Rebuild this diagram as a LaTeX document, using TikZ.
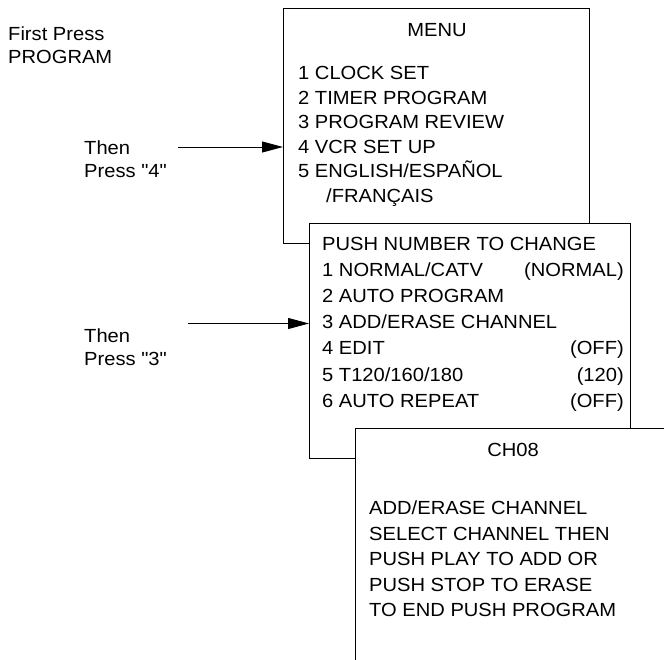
\documentclass[tikz,border=0pt]{standalone}
\usepackage{fontspec}
\setmainfont{Liberation Sans}
\newfontfamily\wide[FakeStretch=1.06]{Liberation Sans}
\usetikzlibrary{arrows.meta}
\begin{document}
\begin{tikzpicture}[x=1pt,y=-1pt,
  txt/.style={anchor=base west,inner sep=0pt,font=\wide\fontsize{19}{22}\selectfont},
  ctxt/.style={anchor=base,inner sep=0pt,font=\wide\fontsize{19}{22}\selectfont},
  rtxt/.style={anchor=base east,inner sep=0pt,font=\wide\fontsize{19}{22}\selectfont},
  screen/.style={draw,line width=0.9pt,fill=white,inner sep=0pt,anchor=north west},
  press/.style={line width=0.9pt,-{Triangle[length=21pt,width=11pt]}}]
\useasboundingbox (0,0) rectangle (664,660);
\clip (0,0) rectangle (664,660);
% left labels
\node[txt] (first) at (8,41) {First Press};
\node[txt] (prog) at (8,64) {PROGRAM};
\node[txt] (then4) at (84,155) {Then};
\node[txt] (press4) at (84,178) {Press \symbol{34}4\symbol{34}};
\node[txt] (then3) at (84,342) {Then};
\node[txt] (press3) at (84,365) {Press \symbol{34}3\symbol{34}};
% screen 1
\node[screen,minimum width=306pt,minimum height=235pt] (menu) at (283,8) {};
\node[ctxt] (mtitle) at (437,37) {MENU};
\node[txt] (m1) at (298,80) {1 CLOCK SET};
\node[txt] (m2) at (298,104.5) {2 TIMER PROGRAM};
\node[txt] (m3) at (298,129) {3 PROGRAM REVIEW};
\node[txt] (m4) at (298,153.5) {4 VCR SET UP};
\node[txt] (m5) at (298,178) {5 ENGLISH/ESPAÑOL};
\node[txt] (m6) at (326,202.5) {/FRANÇAIS};
% screen 2
\node[screen,minimum width=321pt,minimum height=235pt] (setup) at (309,223) {};
\node[txt] (s0) at (322,251) {PUSH NUMBER TO CHANGE};
\node[txt] (s1) at (322,277) {1 NORMAL/CATV};
\node[rtxt] (s1v) at (624,277) {(NORMAL)};
\node[txt] (s2) at (322,303) {2 AUTO PROGRAM};
\node[txt] (s3) at (322,329) {3 ADD/ERASE CHANNEL};
\node[txt] (s4) at (322,355) {4 EDIT};
\node[rtxt] (s4v) at (624,355) {(OFF)};
\node[txt] (s5) at (322,381) {5 T120/160/180};
\node[rtxt] (s5v) at (624,381) {(120)};
\node[txt] (s6) at (322,407) {6 AUTO REPEAT};
\node[rtxt] (s6v) at (624,407) {(OFF)};
% screen 3
\node[screen,minimum width=360pt,minimum height=300pt] (chan) at (355,428) {};
\node[ctxt] (ctitle) at (513,456) {CH08};
\node[txt] (c1) at (369,514) {ADD/ERASE CHANNEL};
\node[txt] (c2) at (369,540) {SELECT CHANNEL THEN};
\node[txt] (c3) at (369,565.5) {PUSH PLAY TO ADD OR};
\node[txt] (c4) at (369,591) {PUSH STOP TO ERASE};
\node[txt] (c5) at (369,616.5) {TO END PUSH PROGRAM};
% arrows
\coordinate (a4) at (178,147);
\coordinate (a3) at (188,323.5);
\draw[press] (a4) -- (a4 -| menu.west);
\draw[press] (a3) -- (a3 -| setup.west);
\end{tikzpicture}
\end{document}
